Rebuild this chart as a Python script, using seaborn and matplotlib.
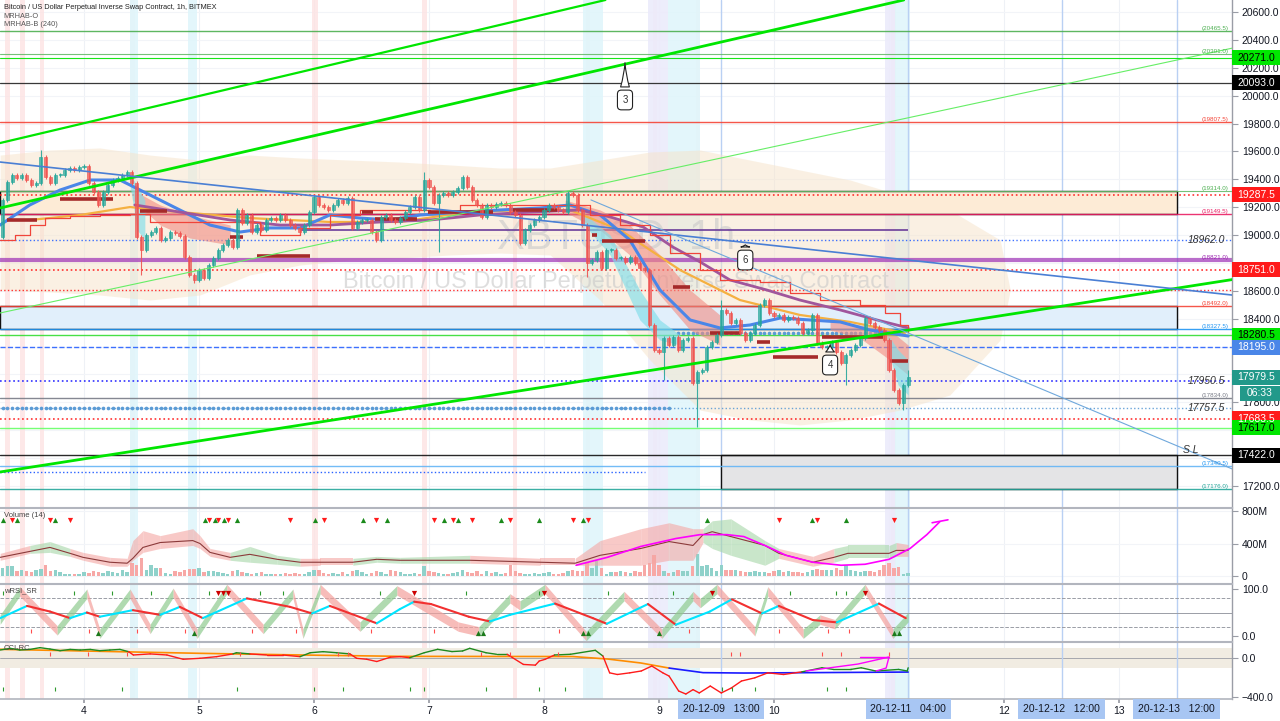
import numpy as np
import pandas as pd
import matplotlib
matplotlib.use("Agg")
import matplotlib.pyplot as plt
import matplotlib.transforms as mtransforms
from matplotlib.patches import Rectangle
import seaborn as sns

sns.set_theme(style="white")
plt.rcParams['font.family'] = ['Liberation Sans', 'DejaVu Sans']

# ======================= DATA =======================
# time axis: hours relative to 2020-12-04 00:00 ; first candle 2020-12-03 07:00
first_hour = -17
first_open = 18986
closes = [
    19251, 19381, 19431, 19409, 19431, 19395, 19359, 19373, 19560, 19416,
    19373, 19431, 19431, 19467, 19481, 19467, 19488, 19495, 19373, 19309,
    19216, 19309, 19359, 19395, 19409, 19431, 19452, 19373, 18986, 18893,
    19000, 19022, 19051, 18965, 18979, 19022, 19015, 18993, 18843, 18714,
    18678, 18749, 18692, 18785, 18835, 18893, 18929, 18965,
    18914, 19180, 19087, 19144, 19022, 19072, 19036, 19108, 19122, 19108,
    19144, 19108, 19072, 19051, 19022, 19072, 19165, 19273, 19216, 19201,
    19180, 19216, 19251, 19230, 19266, 19051, 19094, 19108, 19108, 19022,
    18965, 19130, 19144, 19108, 19094, 19122, 19165, 19201, 19273, 19180,
    19395, 19345, 19230, 19287, 19302, 19287, 19309, 19338,
    19416, 19345, 19251, 19216, 19130, 19216, 19201, 19223, 19230, 19216,
    19165, 19144, 18943, 19036, 19072, 19108, 19130, 19180, 19216, 19201,
    19180, 19165, 19302, 19287, 19180, 19072, 18800, 18821, 18879, 18764,
    18893, 18893, 18835, 18835, 18807, 18843, 18800, 18764, 18749, 18355,
    18176, 18161, 18262, 18211, 18269, 18176, 18247, 18262,
    17939, 18018, 18032, 18197, 18233, 18283, 18462, 18441, 18369, 18391,
    18297, 18247, 18297, 18355, 18498, 18534, 18441, 18420, 18427, 18391,
    18412, 18405, 18369, 18297, 18319, 18427, 18226, 18197, 18197, 18233,
    18161, 18082, 18140, 18176, 18211, 18262, 18405, 18369, 18341, 18319,
    18247, 18032, 17889, 17795, 17925, 17979.5,
]
spike_high = {8: 19610, 88: 19452, 150: 18534, 189: 18032}
spike_low = {29: 18714, 40: 18656, 91: 18879, 122: 18700, 138: 17960,
             145: 17623, 176: 17925, 188: 17745}
volumes_m = [
    100, 120, 120, 60, 80, 60, 50, 80, 90, 140, 60, 80, 50, 30, 20, 30, 30, 50, 40, 60,
    50, 40, 60, 50, 40, 70, 50, 160, 140, 220, 80, 130, 100, 100, 40, 30, 60, 50, 70, 90,
    90, 100, 50, 60, 60, 50, 40, 30, 60, 80, 50, 40, 30, 40, 50, 30, 30, 20, 30, 40,
    30, 40, 30, 30, 50, 80, 70, 40, 30, 40, 30, 50, 30, 60, 70, 50, 30, 40, 60, 50,
    30, 70, 60, 50,
    20, 30, 40, 30, 120, 60, 50, 40, 30, 20, 40, 50, 70, 50, 40,
    60, 30, 60, 40, 50, 30, 40, 130, 60, 40, 30, 30, 40, 30, 40,
    50, 30, 30, 40, 60, 80, 60, 60, 160, 100, 180, 100, 30, 50, 50,
    60, 50, 40, 60, 50, 140, 160, 260, 140, 60, 40, 50, 70, 60, 60,
    120, 270, 120, 130, 100, 60, 130, 80, 70, 80, 60, 50, 50, 60, 50,
    50, 40, 60, 70, 50, 60, 50, 50, 40, 50, 80, 90, 70, 80, 80,
    100, 80, 140, 80, 60, 50, 60, 60, 50, 70, 140, 160, 100, 110, 30, 40,
]

# background cloud (hours, upper, lower)
cloud_h = [-17.5, -7.1, 3.3, 13.8, 24.2, 34.6, 45.1, 55.5, 66.0, 76.4, 86.8, 97.3,
           107.7, 118.1, 128.6, 139.0, 149.4, 159.9, 170.3, 180.7, 191.2, 193.3]
cloud_up = [19574, 19610, 19625, 19574, 19538, 19574, 19553, 19538, 19524, 19503, 19481, 19481,
            19538, 19596, 19610, 19538, 19467, 19395, 19287, 19180, 18965, 18606]
cloud_lo = [18606, 18592, 18570, 18534, 18570, 18714, 18785, 18821, 18836, 18857, 18871, 18857,
            18534, 18104, 17745, 17674, 17638, 17674, 17745, 17853, 18247, 18606]

# moving-average style overlays
ema_h = [-17.5, -11.3, -5.0, 1.3, 7.5, 13.8, 20.0, 26.3, 32.6, 38.8, 45.1, 51.3, 57.6, 63.9, 70.1,
         78.5, 86.8, 95.2, 101.4, 107.7, 113.9, 120.2, 126.5, 132.7, 139.0, 145.3, 151.5, 157.8, 164.0, 172.0]
ema_p = [19072, 19216, 19323, 19395, 19395, 19287, 19180, 19072, 19022, 19051, 19051, 19144, 19122, 19108, 19144,
         19165, 19180, 19194, 19216, 19144, 18965, 18606, 18391, 18334, 18355, 18405, 18391, 18377, 18319, 18276]
orange_h = [-11.3, -0.8, 9.6, 20.0, 34.6, 51.3, 66.0, 78.5, 91.0, 101.4, 111.9, 124.4, 136.9, 149.4, 159.9, 171.3]
orange_p = [19108, 19144, 19201, 19165, 19122, 19094, 19094, 19158, 19180, 19180, 19036, 18749, 18534, 18427, 18377, 18298]
purple_h = [10.6, 20.0, 30.5, 40.9, 51.3, 61.8, 72.2, 82.6, 93.1, 103.5, 109.8, 116.7, 122.9, 128.6,
            134.8, 142.5, 149.4, 157.8, 165.5, 172.0]
purple_p = [19216, 19165, 19108, 19072, 19072, 19094, 19108, 19144, 19165, 19180, 19130, 19058, 18914, 18807,
            18678, 18606, 18534, 18463, 18391, 18334]
# thick dark-red step segments (start h, end h, price)
base_seg_h0 = [-16.1, -5.0, 11.7, 30.5, 36.1, 58.0, 60.7, 71.8, 89.5, 106.0, 108.1, 122.9, 130.6, 140.5, 143.8, 154.0, 168.2]
base_seg_h1 = [-9.8, 6.1, 17.3, 33.2, 47.2, 60.3, 69.5, 85.4, 98.7, 107.1, 117.1, 126.5, 136.9, 143.2, 153.2, 166.7, 172.0]
base_seg_p = [19108, 19259, 19173, 18986, 18850, 19165, 19115, 19165, 19180, 19000, 18957, 18628, 18298, 18233, 18126, 18269, 18097]
# thin red step line
conv_h = [-17.5, -14.4, -11.3, -8.1, -2.9, 3.3, 9.6, 13.8, 20.0, 30.5, 36.7, 45.1, 51.3, 57.6, 65.9, 72.2,
          78.5, 91.0, 99.3, 105.6, 111.9, 118.1, 122.3, 128.6, 132.7, 141.1, 147.3, 153.6, 161.9, 167.2, 170.3, 172.0]
conv_p = [18965, 19000, 19072, 19122, 19137, 19144, 19151, 19094, 19094, 19094, 19000, 19051, 19144, 19180, 19180, 19165,
          19216, 19216, 19216, 19144, 19072, 19000, 18871, 18749, 18678, 18663, 18585, 18534, 18498, 18441, 18355, 18305]
# ribbons
salmon_bands = [
    ([10.2, 15.9, 22.1, 30.5], [19323, 19216, 19144, 19072], [19251, 19072, 18979, 18929]),
    ([100.4, 107.7, 113.9, 120.2, 126.5, 132.7], [19251, 19180, 19072, 18857, 18606, 18427],
     [19165, 19036, 18857, 18570, 18319, 18211]),
    ([155.7, 161.9, 168.2, 172.0], [18391, 18355, 18319, 18211], [18319, 18262, 18104, 17996]),
]
cyan_bands = [
    ([9.6, 11.1, 12.7], [19431, 19359, 19251], [19359, 19036, 18965]),
    ([103.5, 109.8, 116.0, 120.2, 124.4], [19180, 19000, 18606, 18391, 18283], [19108, 18857, 18391, 18247, 18211]),
    ([167.8, 169.9, 172.0], [18283, 18176, 18104], [18176, 17925, 17853]),
]

# horizontal levels: price, colour, style, width
levels = [
    (20465.5, '#4caf50', '-', 1.0), (20301.0, '#66bb6a', '-', 0.8), (20271.0, '#00e600', '-', 0.8),
    (20093.0, '#222222', '-', 0.9), (19807.5, '#f44336', '-', 1.0), (19314.0, '#66bb6a', '-', 0.8),
    (19287.5, '#ff1a1a', ':', 1.2), (19149.5, '#e91e63', '-', 1.0), (18962.0, '#2962ff', ':', 1.0),
    (18821.0, '#9c2fb5', '-', 3.0), (18751.0, '#ff1a1a', ':', 1.2), (18606.0, '#ff1a1a', ':', 1.0),
    (18492.0, '#f44336', '-', 1.0), (18327.5, '#2196f3', '-', 1.0), (18280.5, '#33dd33', '-', 1.0),
    (18195.0, '#2962ff', '--', 1.0), (17950.5, '#1a1aff', ':', 1.2), (17834.0, '#787b86', '-', 1.0),
    (17757.5, '#5b9bd5', ':', 1.0), (17683.5, '#ff1a1a', ':', 1.2), (17617.0, '#66ff66', '-', 1.0),
    (17422.0, '#111111', '-', 1.0), (17340.5, '#64b5f6', '-', 1.0), (17176.0, '#26a69a', '-', 1.0),
]
level_notes = [
    (20465.5, '(20465.5)', '#4caf50'), (20301.0, '(20301.0)', '#4caf50'), (19807.5, '(19807.5)', '#f44336'),
    (19314.0, '(19314.0)', '#4caf50'), (19149.5, '(19149.5)', '#e91e63'), (18821.0, '(18821.0)', '#9c27b0'),
    (18492.0, '(18492.0)', '#f44336'), (18327.5, '(18327.5)', '#2196f3'), (17834.0, '(17834.0)', '#787b86'),
    (17340.5, '(17340.5)', '#2196f3'), (17176.0, '(17176.0)', '#26a69a'),
]
italic_notes = [(18962.0, '18962.0'), (17950.5, '17950.5'), (17757.5, '17757.5')]
price_tags = [
    (20271.0, '#00e600', 'black'), (20093.0, '#000000', 'white'), (19287.5, '#ff1a1a', 'white'),
    (18751.0, '#ff1a1a', 'white'), (18280.5, '#00e600', 'black'), (18195.0, '#4a86e8', 'white'),
    (17979.5, '#22998a', 'white'), (17683.5, '#ff1a1a', 'white'), (17617.0, '#00e600', 'black'),
    (17422.0, '#000000', 'white'),
]
boxes = [  # (h0, h1, p_low, p_high, face)
    (-17.6, 228, 19149.5, 19314.0, '#fdebd6'),
    (-17.6, 228, 18327.5, 18492.0, '#e1effb'),
    (133, 228, 17176.0, 17422.0, '#e4e4e6'),
]
# trend lines: two points each (hour, price)
trend_lines = [
    ((-17.54, 19194), (169.3, 20672), '#00e600', 2.0),
    ((-17.54, 19660), (108.8, 20686), '#00e600', 1.6),
    ((-17.54, 17300.6), (239.58, 18680.6), '#00e600', 2.0),
    ((-17.54, 18441), (247.5, 20399), '#66ee66', 0.8),
    ((-17.54, 19524), (239.58, 18570), '#4a7fd4', 1.2),
]
thin_blue = ((105.8, 19252), (239.58, 17323))
callouts = [('3', (112.9, 20256), (112.9, 19969)), ('6', (138.0, 18950), (138.0, 18821)),
            ('4', (155.7, 18233), (155.7, 18068))]

pink_spans = [(-16.5, -15.4), (-13.4, -12.3), (-9.2, -8.4), (9.6, 10.6), (47.6, 48.9), (70.6, 71.6),
              (89.6, 90.4), (104.8, 105.6), (118.8, 119.6), (127.8, 128.6), (168.5, 169.5)]
cyan_spans = [(9.6, 11.3), (21.7, 23.6), (104.2, 108.4), (121.9, 128.6), (169.3, 172.4)]
lav_spans = [(117.7, 121.9), (167.2, 169.3)]
marker_times = [133, 172, 204, 228]
marker_labels = ['20-12-09   13:00', '20-12-11   04:00', '20-12-12   12:00', '20-12-13   12:00']
day_ticks = [0, 24, 48, 72, 96, 120, 144, 168, 192, 216]
day_labels = ['4', '5', '6', '7', '8', '9', '10', '', '12', '13']

# volume panel
vma_h = [-17.5, -11.3, -7.1, -2.9, -0.2, 5.4, 9.0, 10.2, 12.3, 15.9, 22.7, 24.2, 26.3, 30.5, 34.6, 40.3, 45.1,
         49.3, 56.1, 61.1, 65.9, 80.5, 95.2, 102.5, 107.7, 116.2, 122.1, 127.1, 129.2, 131.1, 135.0, 142.1,
         145.0, 152.1, 156.5, 159.4, 168.0, 169.5, 172.0]
vma = [230, 303, 352, 279, 230, 170, 158, 218, 352, 412, 436, 400, 291, 230, 267, 206, 170, 170, 170, 206, 194,
       194, 170, 158, 255, 339, 424, 376, 509, 545, 485, 376, 279, 170, 230, 279, 279, 315, 315]
vma_hi = [279, 376, 424, 339, 291, 230, 218, 436, 558, 497, 582, 497, 339, 291, 364, 255, 218, 218, 218, 242,
          230, 255, 218, 218, 436, 582, 655, 582, 582, 679, 703, 436, 339, 242, 339, 376, 376, 412, 388]
vma_lo = [194, 279, 291, 242, 194, 121, 121, 194, 291, 339, 376, 339, 242, 194, 170, 145, 121, 133, 133, 170,
          158, 158, 133, 133, 133, 133, 194, 194, 412, 339, 255, 133, 218, 121, 170, 218, 218, 242, 242]
vma_green = [0, 1, 1, 0, 0, 0, 0, 0, 0, 0, 0, 0, 0, 1, 1, 1, 0, 0, 1, 1, 1, 0, 0, 0, 0, 0, 0, 0, 1, 1, 1, 1,
             0, 0, 1, 1, 1, 0, 0]
vol_up_marks = [-16.9, -14.0, -6.1, 25.3, 27.3, 29.2, 31.9, 48.2, 58.2, 63.2, 75.1, 78.1, 87.0, 95.0, 104.1,
                130.0, 151.9, 159.0]
vol_dn_marks = [-15.0, -7.1, -2.9, 26.1, 28.0, 30.1, 43.0, 50.1, 60.9, 73.0, 77.0, 81.0, 88.9, 102.1, 105.2,
                145.0, 153.0, 169.0]
mag_h = [102.7, 109.2, 116.2, 123.5, 128.6, 134.2, 137.7, 142.1, 146.5, 152.1, 158.0, 163.0, 168.0, 172.4, 175.9, 178.6]
mag_v = [133, 230, 364, 461, 509, 509, 485, 376, 255, 170, 133, 145, 206, 339, 509, 667]

# wRSI panel
slow_h = [-17.5, -11.9, -7.1, -2.9, 0.6, 3.3, 10.2, 15.9, 20.0, 24.8, 34.0, 43.0, 47.6, 51.3, 61.1, 65.9, 68.9,
          72.4, 80.3, 84.7, 88.9, 98.3, 106.2, 109.1, 117.7, 123.5, 130.6, 135.2, 141.5, 145.0, 152.1, 157.1, 165.9, 171.5]
slow_v = [38, 64, 52, 38, 50, 41, 55, 45, 62, 38, 80, 62, 48, 64, 27, 57, 73, 68, 41, 31, 45, 69, 38, 26, 68,
          24, 52, 78, 48, 64, 34, 29, 69, 38]
fast_h = [-17.5, -13.4, -5.6, 0.6, 3.3, 9.6, 13.8, 18.6, 23.6, 29.8, 37.4, 43.6, 45.7, 49.3, 57.6, 65.3, 78.1,
          82.4, 88.9, 91.0, 96.2, 104.8, 112.7, 120.6, 127.1, 128.6, 132.1, 140.0, 142.7, 150.1, 153.6, 156.7,
          163.0, 168.8, 172.0]
fast_v = [35, 95, 12, 90, 5, 90, 15, 92, 5, 100, 15, 90, 5, 100, 20, 97, 20, 10, 80, 65, 100, 0, 85, 5, 85, 70,
          100, 10, 95, 5, 35, 25, 100, 5, 40]
rsi_dn_marks = [28.0, 29.0, 30.0, 68.9, 96.0, 131.1, 163.0]
rsi_up_marks = [2.9, 23.0, 82.2, 83.3, 104.1, 105.2, 120.0, 169.0, 170.1]
rsi_red_ticks = [-11.1, 1.0, 11.1, 21.1, 35.1, 44.2, 59.9, 73.0, 99.1, 126.3, 145.0, 155.3, 159.7]
rsi_green_ticks = [-16.9, -2.1, 5.8, 14.0, 26.1, 36.7, 41.5, 61.8, 79.7, 95.0, 109.4, 122.9, 147.3, 157.0, 159.0]

# CCI panel
cci_h = [-17.5, -15.4, -13.4, -11.3, -9.2, -7.1, -5.0, -2.9, -0.8, 1.3, 3.3, 5.4, 7.5, 9.3, 10.3, 13.8, 17.3,
         20.7, 24.2, 27.7, 31.1, 31.8, 34.6, 38.1, 41.5, 45.1, 47.2, 49.9, 52.7, 55.5, 56.9, 59.0, 61.1, 63.9, 66.0,
         68.0, 71.0, 73.8, 76.8, 79.0, 80.5, 83.9, 86.1, 88.3, 91.7, 94.2, 95.0, 96.2, 98.2, 101.5, 106.7, 108.3,
         109.7, 111.3, 113.9, 116.3, 118.5, 120.8, 122.1, 124.1, 125.6, 127.1, 128.4, 130.7, 133.0, 135.1, 137.2,
         140.0, 142.7, 146.0, 149.8, 154.0, 156.4, 160.0, 162.2, 165.2, 170.0, 171.8, 172.0]
cci_v = [82, 99, 82, 88, 106, 92, 75, 88, 82, 88, 75, 82, 88, 65, 31, 42, 31, -13, -3, 14, 42, 54, 42, 31, 31, 14,
         54, 65, 54, 42, -3, -13, -36, 8, 14, 3, 54, 89, 66, 72, 99, 54, 38, 38, -66, -73, -31, -14, 31, 38, 79,
         20, -152, -169, -152, -133, -82, -152, -185, -338, -369, -324, -358, -287, -358, -307, -236, -203, -152,
         -169, -142, -100, -117, -117, -100, -133, -117, -133, -100]
ccima_h = [-17.5, 24.2, 45.1, 65.9, 102.0, 109.2, 116.2, 122.1, 129.2, 137.7, 172.0]
ccima_v = [89, 48, 31, 17, 15, -10, -51, -103, -150, -154, -144]
cci_blue_from = 122.1
cci_up_ticks = [-16.9, -6.1, 7.9, 31.9, 48.0, 54.1, 68.0, 71.0, 83.9, 95.0, 100.4, 133.1, 135.2, 140.0, 155.1, 159.0]
cci_dn_ticks = [-7.1, 0.8, 9.0, 32.6, 53.0, 55.1, 82.9, 88.9, 98.9, 135.0, 136.9, 154.0, 158.0, 168.0]
cci_mag_h = [150.7, 161.5, 168.0, 167.4, 165.3]
cci_mag_v = [-133, -62, 10, -103, -133]
cci_mag2_h = [161.9, 168.0]
cci_mag2_v = [10, 10]

# ======================= FIGURE =======================
W, H = 1280, 721
fig = plt.figure(figsize=(W / 100, H / 100), dpi=100)
fig.patch.set_facecolor('white')


def rect(top, bottom, right=1232):
    return [0, 1 - bottom / H, right / W, (bottom - top) / H]


ax = fig.add_axes(rect(0, 507))
axv = fig.add_axes(rect(508, 583), sharex=ax)
axr = fig.add_axes(rect(584, 641), sharex=ax)
axc = fig.add_axes(rect(642, 699), sharex=ax)
XL = (-17.53, 239.58)
TXT = '#131722'
GRID = '#eef1f6'

for a in (ax, axv, axr, axc):
    a.set_facecolor('white')
    a.set_xlim(*XL)
    a.spines['left'].set_visible(False)
    a.spines['right'].set_color('#9a9da6')
    a.spines['right'].set_linewidth(1.0)
    a.spines['top'].set_color('#b2b5be')
    a.spines['top'].set_linewidth(1.5)
    a.spines['bottom'].set_visible(False)
    a.yaxis.tick_right()
    a.tick_params(axis='y', which='both', right=True, left=False, labelleft=False, labelright=True,
                  labelsize=7.5, length=4, width=0.8, color='#9a9da6', labelcolor=TXT, pad=3)
    a.tick_params(axis='x', bottom=False, labelbottom=False)
    a.grid(False)
    for t in day_ticks:
        a.axvline(t, color=GRID, lw=0.8, zorder=0)
    for h0, h1 in pink_spans:
        a.axvspan(h0, h1, color='#fde3e3', alpha=0.8, lw=0, zorder=0.1)
    for h0, h1 in cyan_spans:
        a.axvspan(h0, h1, color='#e0f6fb', alpha=0.9, lw=0, zorder=0.1)
    for h0, h1 in lav_spans:
        a.axvspan(h0, h1, color='#ecebfb', alpha=0.9, lw=0, zorder=0.1)
    for t in marker_times:
        a.axvline(t, color='#b9d0f3', lw=1.0, zorder=0.5)
ax.spines['top'].set_visible(False)

# ---------------- main price panel ----------------
YL = (17049.6, 20686.1)
ax.set_ylim(*YL)
ppx = (YL[1] - YL[0]) / 507.0
yt = np.arange(17200, 20601, 200)
ax.set_yticks(yt)
tag_prices = [p for p, _, _ in price_tags]
covered = lambda v: any(abs(v - p) < 8 * ppx for p in tag_prices) or abs(v - (closes[-1] - 16 * ppx)) < 8 * ppx
ax.set_yticklabels(['' if covered(v) else f'{v:.1f}' for v in yt])
for v in yt:
    ax.axhline(v, color='#f2f4f8', lw=0.8, zorder=0)

ax.fill_between(cloud_h, cloud_lo, cloud_up, color='#f6e3c9', alpha=0.5, lw=0, zorder=0.6)

for h0, h1, p0, p1, fc in boxes:
    ax.add_patch(Rectangle((h0, p0), h1 - h0, p1 - p0, facecolor=fc, edgecolor='#111111', lw=1.0,
                           alpha=1.0, zorder=1))

for p, c, ls, lw in levels:
    ax.axhline(p, color=c, ls=ls, lw=lw, zorder=1.5, alpha=0.9 if lw < 2 else 0.7)
ax.hlines(19036, 45, 172, color='#6a3d9a', lw=1.2, zorder=1.6)
ax.hlines(17300, XL[0], 117, color='#2962ff', ls=':', lw=1.0, zorder=1.6)

# dots rows
dot_h1 = np.arange(-17, 123)
ax.scatter(dot_h1, np.full(len(dot_h1), 17757.5), s=7, color='#5b9bd5', zorder=2, lw=0)
dot_h2 = np.arange(124, 172)
ax.scatter(dot_h2, np.full(len(dot_h2), 18300.0), s=7, color='#5b9bd5', zorder=2, lw=0)

for hh, up, lo in salmon_bands:
    ax.fill_between(hh, lo, up, color='#f28b82', alpha=0.6, lw=0, zorder=2)
for hh, up, lo in cyan_bands:
    ax.fill_between(hh, lo, up, color='#80deea', alpha=0.65, lw=0, zorder=2)

sns.lineplot(x=orange_h, y=orange_p, ax=ax, color='#f5b041', lw=1.6, sort=False, estimator=None, zorder=2.2)
sns.lineplot(x=ema_h, y=ema_p, ax=ax, color='#4a86e8', lw=2.2, sort=False, estimator=None, zorder=2.3)
sns.lineplot(x=purple_h, y=purple_p, ax=ax, color='#a0569c', lw=2.0, sort=False, estimator=None, zorder=2.3)
sns.lineplot(x=conv_h, y=conv_p, ax=ax, color='#f0443a', lw=0.9, sort=False, estimator=None,
             drawstyle='steps-post', zorder=2.3)
ax.hlines(base_seg_p, base_seg_h0, base_seg_h1, color='#a52a2a', lw=2.6, zorder=2.4)

# candles
n = len(closes)
df = pd.DataFrame({'h': first_hour + np.arange(n), 'c': closes})
df['o'] = [first_open] + closes[:-1]
df['up'] = df['c'] >= df['o']
df['top'] = df[['o', 'c']].max(axis=1)
df['bot'] = df[['o', 'c']].min(axis=1)
wick_pad = 14
df['hi'] = df['top'] + wick_pad
df['lo'] = df['bot'] - wick_pad
for i, v in spike_high.items():
    df.loc[i, 'hi'] = v
for i, v in spike_low.items():
    df.loc[i, 'lo'] = v
cols = np.where(df['up'], '#26a69a', '#ef5350')
ax.vlines(df['h'], df['lo'], df['hi'], colors=cols, lw=0.8, zorder=3, alpha=0.9)
body = np.maximum(df['top'] - df['bot'], 6)
ax.bar(df['h'], body, bottom=df['bot'], width=0.64, color=cols, alpha=0.72, edgecolor=cols, lw=0.6, zorder=3.1)

for p1, p2, c, lw in trend_lines:
    ax.axline(p1, p2, color=c, lw=lw, zorder=3.5)
ax.plot([thin_blue[0][0], thin_blue[1][0]], [thin_blue[0][1], thin_blue[1][1]], color='#6fa8dc', lw=0.8, zorder=3.5)

# watermark & header
ax.text(0.5, 0.5325, 'XBTUSD, 1h', transform=ax.transAxes, ha='center', va='center', fontsize=30,
        color='#c9c9c9', alpha=0.6, zorder=0.7)
ax.text(0.5, 0.444, 'Bitcoin / US Dollar Perpetual Inverse Swap Contract', transform=ax.transAxes,
        ha='center', va='center', fontsize=17, color='#c9c9c9', alpha=0.6, zorder=0.7)
ax.text(0.003, 0.992, 'Bitcoin / US Dollar Perpetual Inverse Swap Contract, 1h, BITMEX', transform=ax.transAxes,
        ha='left', va='top', fontsize=5.3, color='#222222', zorder=8)
ax.text(0.003, 0.975, 'MRHAB-O', transform=ax.transAxes, ha='left', va='top', fontsize=5.3, color='#555555', zorder=8)
ax.text(0.003, 0.958, 'MRHAB-B (240)', transform=ax.transAxes, ha='left', va='top', fontsize=5.3,
        color='#555555', zorder=8)

for p, t, c in level_notes:
    ax.text(238.8, p, t, ha='right', va='bottom', fontsize=4.5, color=c, zorder=8)
for p, t in italic_notes:
    ax.text(238.2, p, t, ha='right', va='center', fontsize=7.5, style='italic', color='#333333', zorder=8)
ax.text(229.4, 17422, 'S L', ha='left', va='bottom', fontsize=7.5, style='italic', color='#333333', zorder=8)

for lab, tip, ctr in callouts:
    ax.annotate(lab, xy=tip, xytext=ctr, ha='center', va='center', fontsize=7, color='#333333', zorder=9,
                bbox=dict(boxstyle='round,pad=0.5,rounding_size=0.4', fc='white', ec='#222222', lw=0.8),
                arrowprops=dict(arrowstyle='wedge,tail_width=0.9,shrink_factor=0.35', fc='white', ec='#222222',
                                lw=0.8))

# right-hand price tags
trans = mtransforms.blended_transform_factory(ax.transAxes, ax.transData)
for p, fc, tc in price_tags:
    ax.add_patch(Rectangle((1.0, p - 7.5 * ppx), 48 / 1232, 15 * ppx, transform=trans, facecolor=fc,
                           edgecolor='none', clip_on=False, zorder=10))
    ax.text(1.0 + 24 / 1232, p, f'{p:.1f}', transform=trans, ha='center', va='center', fontsize=7.5,
            color=tc, zorder=11, clip_on=False)
last_p = closes[-1]
tr2 = mtransforms.offset_copy(trans, fig=fig, y=-16, units='dots')
ax.add_patch(Rectangle((1240 / 1232, last_p - 7.5 * ppx), 40 / 1232, 15 * ppx, transform=tr2,
                       facecolor='#22998a', edgecolor='none', clip_on=False, zorder=10))
ax.text(1260 / 1232, last_p, '06:33', transform=tr2, ha='center', va='center', fontsize=7.5, color='white',
        zorder=11, clip_on=False)

# ---------------- volume panel ----------------
axv.set_ylim(-85, 836)
axv.set_yticks([0, 400, 800])
axv.set_yticklabels(['0', '400M', '800M'])
for v in (0, 400, 800):
    axv.axhline(v, color='#f2f4f8', lw=0.8, zorder=0)
vcols = np.where(df['up'], '#8fd1ca', '#f7a8a6')
axv.bar(df['h'], volumes_m, width=0.72, color=vcols, lw=0, zorder=2)
for k in range(len(vma_h) - 1):
    c = '#a5d6a7' if vma_green[k] else '#f4a6a3'
    axv.fill_between(vma_h[k:k + 2], vma_lo[k:k + 2], vma_hi[k:k + 2], color=c, alpha=0.6, lw=0, zorder=2.5)
sns.lineplot(x=vma_h, y=vma, ax=axv, color='#8b3a3a', lw=0.8, sort=False, estimator=None, zorder=3)
sns.lineplot(x=mag_h, y=mag_v, ax=axv, color='#ff00ff', lw=1.2, sort=False, estimator=None, zorder=3.2)
axv.plot([177.0, 180.3], [655, 691], color='#ff00ff', lw=1.2, zorder=3.2)
axv.scatter(vol_up_marks, np.full(len(vol_up_marks), 690), marker='^', s=14, color='#1b8a1b', zorder=4, lw=0)
axv.scatter(vol_dn_marks, np.full(len(vol_dn_marks), 690), marker='v', s=14, color='#ff1a1a', zorder=4, lw=0)
axv.text(0.003, 0.95, 'Volume (14)', transform=axv.transAxes, ha='left', va='top', fontsize=5.5, color='#444444')

# ---------------- wRSI panel ----------------
axr.set_ylim(-10.6, 110.6)
axr.set_yticks([0, 100])
axr.set_yticklabels(['0.0', '100.0'])
axr.axhline(80, color='#9a9da6', ls='--', lw=0.7, zorder=1)
axr.axhline(20, color='#9a9da6', ls='--', lw=0.7, zorder=1)
axr.axhline(50, color='#9a9da6', ls='-', lw=0.7, zorder=1)
for k in range(len(fast_h) - 1):
    rising = fast_v[k + 1] > fast_v[k]
    c = '#8fcb8f' if rising else '#f4a09c'
    axr.fill_between(fast_h[k:k + 2], [fast_v[k] - 10, fast_v[k + 1] - 10], [fast_v[k] + 10, fast_v[k + 1] + 10],
                     color=c, alpha=0.7, lw=0, zorder=2)
for k in range(len(slow_h) - 1):
    c = '#00e5ff' if slow_v[k + 1] > slow_v[k] else '#f23030'
    axr.plot(slow_h[k:k + 2], slow_v[k:k + 2], color=c, lw=1.5, zorder=3, solid_capstyle='round')
axr.scatter(rsi_dn_marks, np.full(len(rsi_dn_marks), 92), marker='v', s=14, color='#cc0000', zorder=4, lw=0)
axr.scatter(rsi_up_marks, np.full(len(rsi_up_marks), 6), marker='^', s=14, color='#1b7a1b', zorder=4, lw=0)
axr.scatter(rsi_red_ticks, np.full(len(rsi_red_ticks), 10), marker='|', s=10, color='#ff4d4d', zorder=4, lw=0.8)
axr.scatter(rsi_green_ticks, np.full(len(rsi_green_ticks), 92), marker='|', s=10, color='#2e9a2e', zorder=4, lw=0.8)
axr.text(0.003, 0.95, 'wRSI_SR', transform=axr.transAxes, ha='left', va='top', fontsize=5.5, color='#444444')

# ---------------- CCI panel ----------------
axc.set_ylim(-420, 164)
axc.set_yticks([0, -400])
axc.set_yticklabels(['0.0', '\u2212400.0'])
axc.axhspan(-100, 100, color='#f1ece2', lw=0, zorder=0.3)
axc.axhline(0, color='#9a9da6', lw=0.6, zorder=0.4)
ma_interp = np.interp(cci_h, ccima_h, ccima_v)
for k in range(len(cci_h) - 1):
    c = '#1e8a1e' if (cci_v[k] + cci_v[k + 1]) >= (ma_interp[k] + ma_interp[k + 1]) else '#ff1a1a'
    axc.plot(cci_h[k:k + 2], cci_v[k:k + 2], color=c, lw=1.0, zorder=3)
ma_h = np.array(ccima_h)
ma_v = np.array(ccima_v)
m1 = ma_h <= cci_blue_from
sns.lineplot(x=ma_h[m1], y=ma_v[m1], ax=axc, color='#ff8c00', lw=1.2, sort=False, estimator=None, zorder=2.8)
m2 = ma_h >= cci_blue_from
sns.lineplot(x=ma_h[m2], y=ma_v[m2], ax=axc, color='#1a1aff', lw=1.2, sort=False, estimator=None, zorder=2.8)
axc.plot(cci_mag_h, cci_mag_v, color='#ff00ff', lw=1.0, zorder=3.3)
axc.plot(cci_mag2_h, cci_mag2_v, color='#ff00ff', lw=1.0, zorder=3.3)
axc.scatter(cci_up_ticks, np.full(len(cci_up_ticks), -320), marker='|', s=10, color='#2e9a2e', zorder=4, lw=0.8)
axc.scatter(cci_dn_ticks, np.full(len(cci_dn_ticks), 40), marker='|', s=10, color='#ff4d4d', zorder=4, lw=0.8)
axc.text(0.003, 0.95, 'CCI-RC', transform=axc.transAxes, ha='left', va='top', fontsize=5.5, color='#444444')

axc.spines['bottom'].set_visible(True)
axc.spines['bottom'].set_color('#b2b5be')
axc.spines['bottom'].set_linewidth(1.2)
axc.set_xticks(day_ticks)
axc.set_xticklabels(day_labels)
axc.tick_params(axis='x', bottom=True, labelbottom=True, labelsize=7.5, length=3, color='#9a9da6',
                labelcolor=TXT, pad=2)
btr = mtransforms.blended_transform_factory(axc.transData, axc.transAxes)
for t, lab in zip(marker_times, marker_labels):
    axc.text(t, -0.175, lab, transform=btr, ha='center', va='center', fontsize=7.5, color=TXT, clip_on=False,
             zorder=12, bbox=dict(boxstyle='square,pad=0.45', fc='#a8c6f3', ec='none'))

fig.savefig('out.png', dpi=100)
